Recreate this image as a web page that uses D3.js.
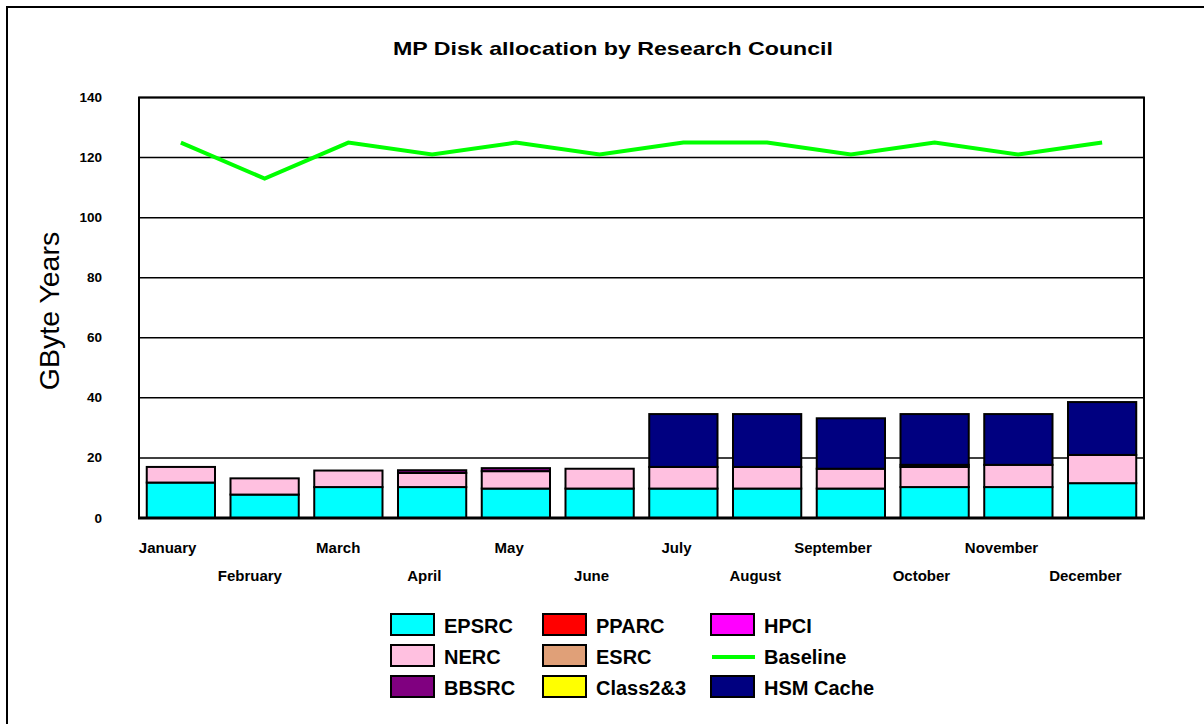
<!DOCTYPE html>
<html lang="en">
<head>
<meta charset="UTF-8">
<title>MP Disk allocation by Research Council</title>
<script src="https://cdnjs.cloudflare.com/ajax/libs/d3/7.8.5/d3.min.js"></script>
<style>
    body { margin: 0; background: #fff; font-family: "Liberation Sans", Arial, sans-serif; }
    svg { display: block; }
</style>
</head>
<body>
<svg id="chart" width="1204" height="724"></svg>
<script>
const months = ["January", "February", "March", "April", "May", "June",
    "July", "August", "September", "October", "November", "December"];

// GByte years per council
const epsrc   = [11.8, 7.8, 10.3, 10.3, 9.8, 9.8, 9.8, 9.8, 9.8, 10.3, 10.3, 11.6];
const nerc    = [5.2, 5.4, 5.5, 4.7, 5.8, 6.6, 7.2, 7.2, 6.6, 6.7, 7.4, 9.4];
const bbsrc   = [0, 0, 0, 0.9, 1.0, 0, 0, 0, 0, 0.7, 0, 0];
const pparc   = [0, 0, 0, 0, 0, 0, 0, 0, 0, 0, 0, 0];
const esrc    = [0, 0, 0, 0, 0, 0, 0, 0, 0, 0, 0, 0];
const class23 = [0, 0, 0, 0, 0, 0, 0, 0, 0, 0, 0, 0];
const hpci    = [0, 0, 0, 0, 0, 0, 0, 0, 0, 0, 0, 0];
const hsm     = [0, 0, 0, 0, 0, 0, 17.6, 17.6, 16.8, 16.9, 16.9, 17.6];
const baseline = [125, 113, 125, 121, 125, 121, 125, 125, 121, 125, 121, 125];

const yTicks = [0, 20, 40, 60, 80, 100, 120, 140];

const series = [
    { name: "EPSRC", values: epsrc, color: "#00ffff" },
    { name: "NERC", values: nerc, color: "#ffc0e0" },
    { name: "BBSRC", values: bbsrc, color: "#800080" },
    { name: "PPARC", values: pparc, color: "#ff0000" },
    { name: "ESRC", values: esrc, color: "#e0a078" },
    { name: "Class2&3", values: class23, color: "#ffff00" },
    { name: "HPCI", values: hpci, color: "#ff00ff" },
    { name: "HSM Cache", values: hsm, color: "#000080" }
];

// legend laid out column by column, like the original
const legendOrder = ["EPSRC", "NERC", "BBSRC", "PPARC", "ESRC", "Class2&3", "HPCI", "Baseline", "HSM Cache"];

const svg = d3.select("#chart");
const plot = { left: 139, right: 1144, top: 97.5, bottom: 518 };

// outer frame (runs off the right/bottom of the picture)
svg.append("rect")
    .attr("x", 7).attr("y", 7)
    .attr("width", 1400).attr("height", 900)
    .attr("fill", "none").attr("stroke", "#000").attr("stroke-width", 2);

const x = d3.scaleBand()
    .domain(months)
    .range([plot.left, plot.right])
    .paddingInner(0.185)
    .paddingOuter(0.0925);

const y = d3.scaleLinear()
    .domain([0, 140])
    .range([plot.bottom, plot.top]);

// gridlines
svg.append("g")
    .selectAll("line")
    .data(yTicks.filter(d => d > 0))
    .join("line")
    .attr("x1", plot.left).attr("x2", plot.right)
    .attr("y1", d => y(d)).attr("y2", d => y(d))
    .attr("stroke", "#000").attr("stroke-width", 1.5);

// plot frame
svg.append("rect")
    .attr("x", plot.left).attr("y", plot.top)
    .attr("width", plot.right - plot.left).attr("height", plot.bottom - plot.top)
    .attr("fill", "none").attr("stroke", "#000").attr("stroke-width", 2);

// stacked bars
const rows = months.map((m, i) => {
    const r = { month: m };
    series.forEach(s => { r[s.name] = s.values[i]; });
    return r;
});
const stacked = d3.stack().keys(series.map(s => s.name))(rows);

stacked.forEach((layer, li) => {
    svg.append("g")
        .selectAll("rect")
        .data(layer.filter(d => d[1] - d[0] > 0))
        .join("rect")
        .attr("x", d => x(d.data.month))
        .attr("width", x.bandwidth())
        .attr("y", d => y(d[1]))
        .attr("height", d => y(d[0]) - y(d[1]))
        .attr("fill", series[li].color)
        .attr("stroke", "#000")
        .attr("stroke-width", 2);
});

// baseline line
const line = d3.line()
    .x((d, i) => x(months[i]) + x.bandwidth() / 2)
    .y(d => y(d));

svg.append("path")
    .datum(baseline)
    .attr("d", line)
    .attr("fill", "none")
    .attr("stroke", "#00ff00")
    .attr("stroke-width", 4);

// x axis line
svg.append("line")
    .attr("x1", plot.left - 1).attr("x2", plot.right + 1)
    .attr("y1", plot.bottom).attr("y2", plot.bottom)
    .attr("stroke", "#000").attr("stroke-width", 3);

// y tick labels
svg.append("g")
    .selectAll("text")
    .data(yTicks)
    .join("text")
    .attr("x", 102)
    .attr("y", d => y(d) + 4.5)
    .attr("text-anchor", "end")
    .attr("font-size", 13.5)
    .attr("font-weight", "bold")
    .text(d => d);

// month labels, staggered on two rows
svg.append("g")
    .selectAll("text")
    .data(months)
    .join("text")
    .attr("y", (d, i) => i % 2 === 0 ? 553 : 581)
    .attr("text-anchor", "middle")
    .attr("font-size", 15)
    .attr("font-weight", "bold")
    .text(d => d)
    .attr("x", function (d) {
        const w = this.getComputedTextLength();
        return x(d) + x.bandwidth() / 2 - 0.23 * w;
    });

// titles
svg.append("text")
    .attr("x", 613).attr("y", 55)
    .attr("text-anchor", "middle")
    .attr("font-size", 19)
    .attr("font-weight", "bold")
    .attr("textLength", 440)
    .attr("lengthAdjust", "spacingAndGlyphs")
    .text("MP Disk allocation by Research Council");

svg.append("text")
    .attr("transform", "translate(59,311) rotate(-90)")
    .attr("text-anchor", "middle")
    .attr("font-size", 28.5)
    .text("GByte Years");

// legend
const colX = [391, 543, 711];
const rowY = [614, 645, 676];
const legend = svg.append("g");
legendOrder.forEach((name, i) => {
    const cx = colX[Math.floor(i / 3)];
    const cy = rowY[i % 3];
    const g = legend.append("g").attr("transform", `translate(${cx},${cy})`);
    if (name === "Baseline") {
        g.append("line")
            .attr("x1", 1).attr("x2", 44)
            .attr("y1", 12).attr("y2", 12)
            .attr("stroke", "#00ff00").attr("stroke-width", 4);
    } else {
        const s = series.find(d => d.name === name);
        g.append("rect")
            .attr("x", 0).attr("y", 0)
            .attr("width", 43).attr("height", 21)
            .attr("fill", s.color)
            .attr("stroke", "#000").attr("stroke-width", 2);
    }
    g.append("text")
        .attr("x", 53).attr("y", 19)
        .attr("font-size", 20)
        .attr("font-weight", "bold")
        .text(name);
});
</script>
</body>
</html>
